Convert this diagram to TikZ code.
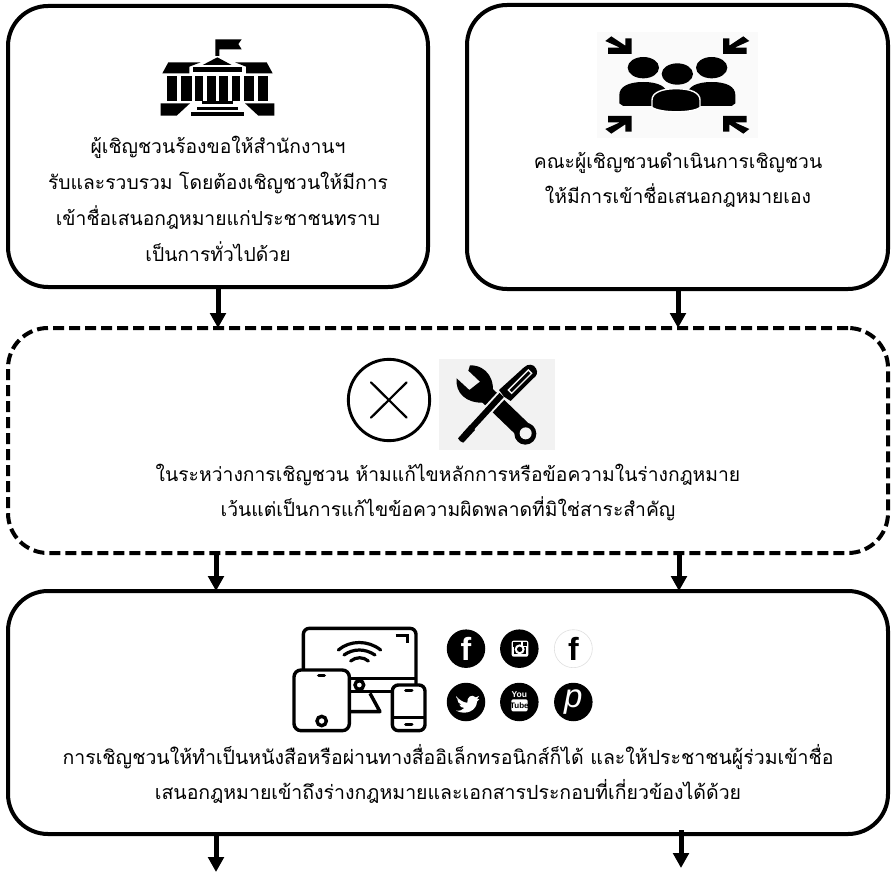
\documentclass[tikz,border=0pt]{standalone}
\usepackage{fontspec}
\setmainfont{Liberation Sans}
\newfontfamily\thaifont[Script=Thai]{Loma}
\usetikzlibrary{arrows.meta}
\tikzset{
  x=1pt,y=-1pt,
  panel/.style={draw=black,line width=4pt,rounded corners=40pt,fill=white,inner sep=0pt,outer sep=0pt},
  dashpanel/.style={panel,dash pattern=on 11pt off 5pt},
  flow/.style={line width=5pt,-{Triangle[length=15pt,width=15.5pt]}},
  thaitext/.style={font=\thaifont\fontsize{19.3}{#1}\selectfont,align=center,inner sep=0pt},
  soc/.style={circle,fill=black,minimum size=38.5pt,inner sep=0pt},
  socw/.style={circle,draw=black!12,fill=white,line width=.6pt,minimum size=38pt,inner sep=0pt},
}
\begin{document}
\begin{tikzpicture}
\useasboundingbox (0,0) rectangle (896,872);
\fill[white] (0,0) rectangle (896,872);
% panels
\node[panel,minimum width=420pt,minimum height=281pt] (box1) at (218,146.5) {};
\node[panel,minimum width=421pt,minimum height=284pt] (box2) at (677.5,147) {};
\node[dashpanel,minimum width=880pt,minimum height=225pt] (box3) at (448,440.5) {};
\node[panel,minimum width=880pt,minimum height=243pt] (box4) at (448,712.5) {};
% connectors
\coordinate (colA) at (218,0);
\coordinate (colB) at (678,0);
\coordinate (colD) at (216,0);
\coordinate (colE) at (679,0);
\coordinate (endA) at (216,872);
\coordinate (startB) at (681,830);
\coordinate (endB) at (681,868);
\draw[flow] ([yshift=-2pt]colA |- box1.south) -- (colA |- box3.north);
\draw[flow] ([yshift=-2pt]colB |- box2.south) -- (colB |- box3.north);
\draw[flow] ([yshift=-2pt]colD |- box3.south) -- (colD |- box4.north);
\draw[flow] ([yshift=-2pt]colE |- box3.south) -- (colE |- box4.north);
\draw[flow] (colD |- box4.south) -- (endA);
\draw[flow] (startB) -- (endB);
% texts
\node[thaitext=36pt] (t1) at (218,199) {ผู้เชิญชวนร้องขอให้สำนักงานฯ\\รับและรวบรวม โดยต้องเชิญชวนให้มีการ\\เข้าชื่อเสนอกฎหมายแก่ประชาชนทราบ\\เป็นการทั่วไปด้วย};
\node[thaitext=35pt] (t2) at (678,180) {คณะผู้เชิญชวนดำเนินการเชิญชวน\\ให้มีการเข้าชื่อเสนอกฎหมายเอง};
\node[thaitext=35pt] (t3) at (448,493) {ในระหว่างการเชิญชวน ห้ามแก้ไขหลักการหรือข้อความในร่างกฎหมาย\\เว้นแต่เป็นการแก้ไขข้อความผิดพลาดที่มิใช่สาระสำคัญ};
\node[thaitext=35pt,font=\thaifont\fontsize{19.5}{35}\selectfont] (t4) at (448,774) {การเชิญชวนให้ทำเป็นหนังสือหรือผ่านทางสื่ออิเล็กทรอนิกส์ก็ได้ และให้ประชาชนผู้ร่วมเข้าชื่อ\\เสนอกฎหมายเข้าถึงร่างกฎหมายและเอกสารประกอบที่เกี่ยวข้องได้ด้วย};
% building icon
\begin{scope}[shift={(130,20)},scale=1/3]
\fill (256,58)--(335,58)--(325,72)--(335,88)--(268,88)--(268,108)--(256,108)--cycle;
\fill (218,135)--(262,112)--(305,135)--cycle;
\fill (115,127)--(212,127)--(178,140)--(178,160)--(97,160)--cycle;
\fill (315,127)--(410,127)--(428,160)--(348,160)--(348,140)--cycle;
\fill (190,142) rectangle (335,155);
\foreach \a/\b in {110/142,154/185,196/220,232/257,268/293,305/330,342/372,384/414}
  \fill (\a,168) rectangle (\b,243);
\fill (92,250)--(180,250)--(140,287)--(92,287)--cycle;
\fill (345,250)--(433,250)--(433,287)--(385,287)--cycle;
\fill (215,243) rectangle (310,252);
\fill (202,260) rectangle (325,270);
\fill (183,277) rectangle (342,287);
\end{scope}
% people icon
\begin{scope}[shift={(580,20)},scale=1/3]
\fill[black!2] (50,35) rectangle (535,355);
\begin{scope}[shift={(292,195)}]
\foreach \sx/\sy in {1/1,-1/1,1/-1,-1/-1}{
 \begin{scope}[xscale=\sx,yscale=\sy]
  \fill (-137,-140)--(-137,-93)--(-208,-93)--(-208,-112)--(-172,-112)--(-216,-132)--(-198,-146)--(-156,-118)--(-156,-140)--cycle;
 \end{scope}}
\end{scope}
\fill (190,143) ellipse [x radius=47,y radius=32];
\fill (395,143) ellipse [x radius=47,y radius=32];
\fill (118,250)--(118,225) .. controls (118,200) and (145,186) .. (190,186) .. controls (235,186) and (262,200) .. (262,225)--(262,258)--(130,258)--cycle;
\fill (466,250)--(466,225) .. controls (466,200) and (440,186) .. (395,186) .. controls (350,186) and (322,200) .. (322,225)--(322,258)--(455,258)--cycle;
\fill (292,162) ellipse [x radius=47,y radius=32];
\filldraw[draw=white,line width=1.4pt] (216,262)--(216,240) .. controls (216,218) and (245,206) .. (288,206) .. controls (332,206) and (360,218) .. (360,240)--(360,262) .. controls (340,280) and (240,280) .. (216,262)--cycle;
\end{scope}
% prohibition and tools
\begin{scope}[shift={(300,340)},scale=1/3]
\draw[line width=2.9pt] (267,180) circle [radius=122];
\draw[line width=2.2pt,line cap=round] (213,127)--(320,233) (320,127)--(213,233);
\fill[black!5] (417,57) rectangle (765,330);
% wrench
\draw[line width=17pt] (545,150)--(680,280);
\fill (676,281) circle [radius=33];
\fill[black!5] (677,280) circle [radius=18];
\fill (470,115)--(508,150)--(540,125)--(505,92)--(510,76) .. controls (560,75) and (590,120) .. (575,175) --(550,188) .. controls (500,190) and (465,160) .. (470,115)--cycle;
% screwdriver
\draw[black!5,line width=10pt] (610,160)--(480,300);
\draw[line width=6pt] (605,165)--(495,285);
\fill (480,303)--(474,295)--(510,255)--(525,270)--(490,308)--cycle;
\fill (597,150)--(672,82) .. controls (685,70) and (700,72) .. (708,85) .. controls (715,98) and (710,108) .. (700,115)--(632,183)--(612,170)--cycle;
\draw[black!5,line width=1.3pt] (625,150)--(685,90)--(695,100)--(635,160)--cycle;
\end{scope}
% devices
\begin{scope}[shift={(280,610)},scale=1/3]
\draw[line width=3.4pt,rounded corners=6pt] (70,205)--(70,55)--(408,55)--(408,230);
\draw[line width=3.4pt] (210,205)--(408,205) (210,245)--(340,245);
\draw[line width=3.4pt] (347,77)--(382,77)--(382,100);
\draw[line width=3.2pt,line cap=round] (175,120) .. controls (210,90) and (265,90) .. (302,120);
\draw[line width=3.2pt,line cap=round] (192,135) .. controls (220,115) and (255,115) .. (285,135);
\draw[line width=3.2pt,line cap=round] (212,153) .. controls (228,140) and (250,140) .. (265,153);
\draw[line width=3.4pt] (238,225) circle [radius=13];
\draw[line width=3.4pt,line join=round] (270,250)--(300,305)--(210,305);
\draw[line width=3.4pt,fill=white,rounded corners=7pt] (42,180) rectangle (208,362);
\draw[line width=3.4pt,line cap=round] (116,197)--(133,197);
\draw[line width=3.4pt] (125,333) circle [radius=14];
\draw[line width=3.4pt,fill=white,rounded corners=6pt] (337,225) rectangle (435,362);
\draw[line width=3pt] (337,322)--(435,322);
\draw[line width=3pt,line cap=round] (377,241)--(396,241) (377,342)--(396,342);
\node[soc] (fb) at (558,116) {\color{white}\fontsize{32}{32}\selectfont\bfseries f};
\node[soc] (ig) at (718,116) {};
\node[socw] (fw) at (880,116) {\fontsize{32}{32}\selectfont\bfseries f};
\node[soc] (tw) at (558,276) {};
\node[soc] (yt) at (718,276) {};
\node[soc] (pin) at (880,276) {\color{white}\fontsize{33}{33}\selectfont\itshape p};
% instagram glyph
\fill[white,rounded corners=2pt] (695,92) rectangle (745,140);
\fill (702,112) rectangle (738,133);
\fill (700,97) rectangle (722,110);
\fill (728,97) rectangle (740,107);
\fill[white] (719,118) circle [radius=15];
\fill (719,118) circle [radius=8];
% twitter bird
\fill[white] (528,258) .. controls (540,272) and (552,278) .. (562,278) .. controls (560,262) and (575,250) .. (587,262)--(597,258)--(591,268)--(598,267)--(591,275) .. controls (590,300) and (560,318) .. (528,302) .. controls (540,303) and (548,300) .. (553,294) .. controls (545,293) and (540,290) .. (538,284)--(545,284) .. controls (537,281) and (532,276) .. (532,268)--(538,270) .. controls (530,266) and (527,262) .. (528,258)--cycle;
% youtube
\node[font=\bfseries\fontsize{8.5}{8.5}\selectfont,text=white,inner sep=0pt] (ytyou) at (718,254) {You};
\fill[white,rounded corners=1.5pt] (694,268) rectangle (743,304);
\node[font=\bfseries\fontsize{8}{8}\selectfont,text=black,inner sep=0pt] (yttube) at (718,286) {Tube};
\end{scope}
\end{tikzpicture}
\end{document}
